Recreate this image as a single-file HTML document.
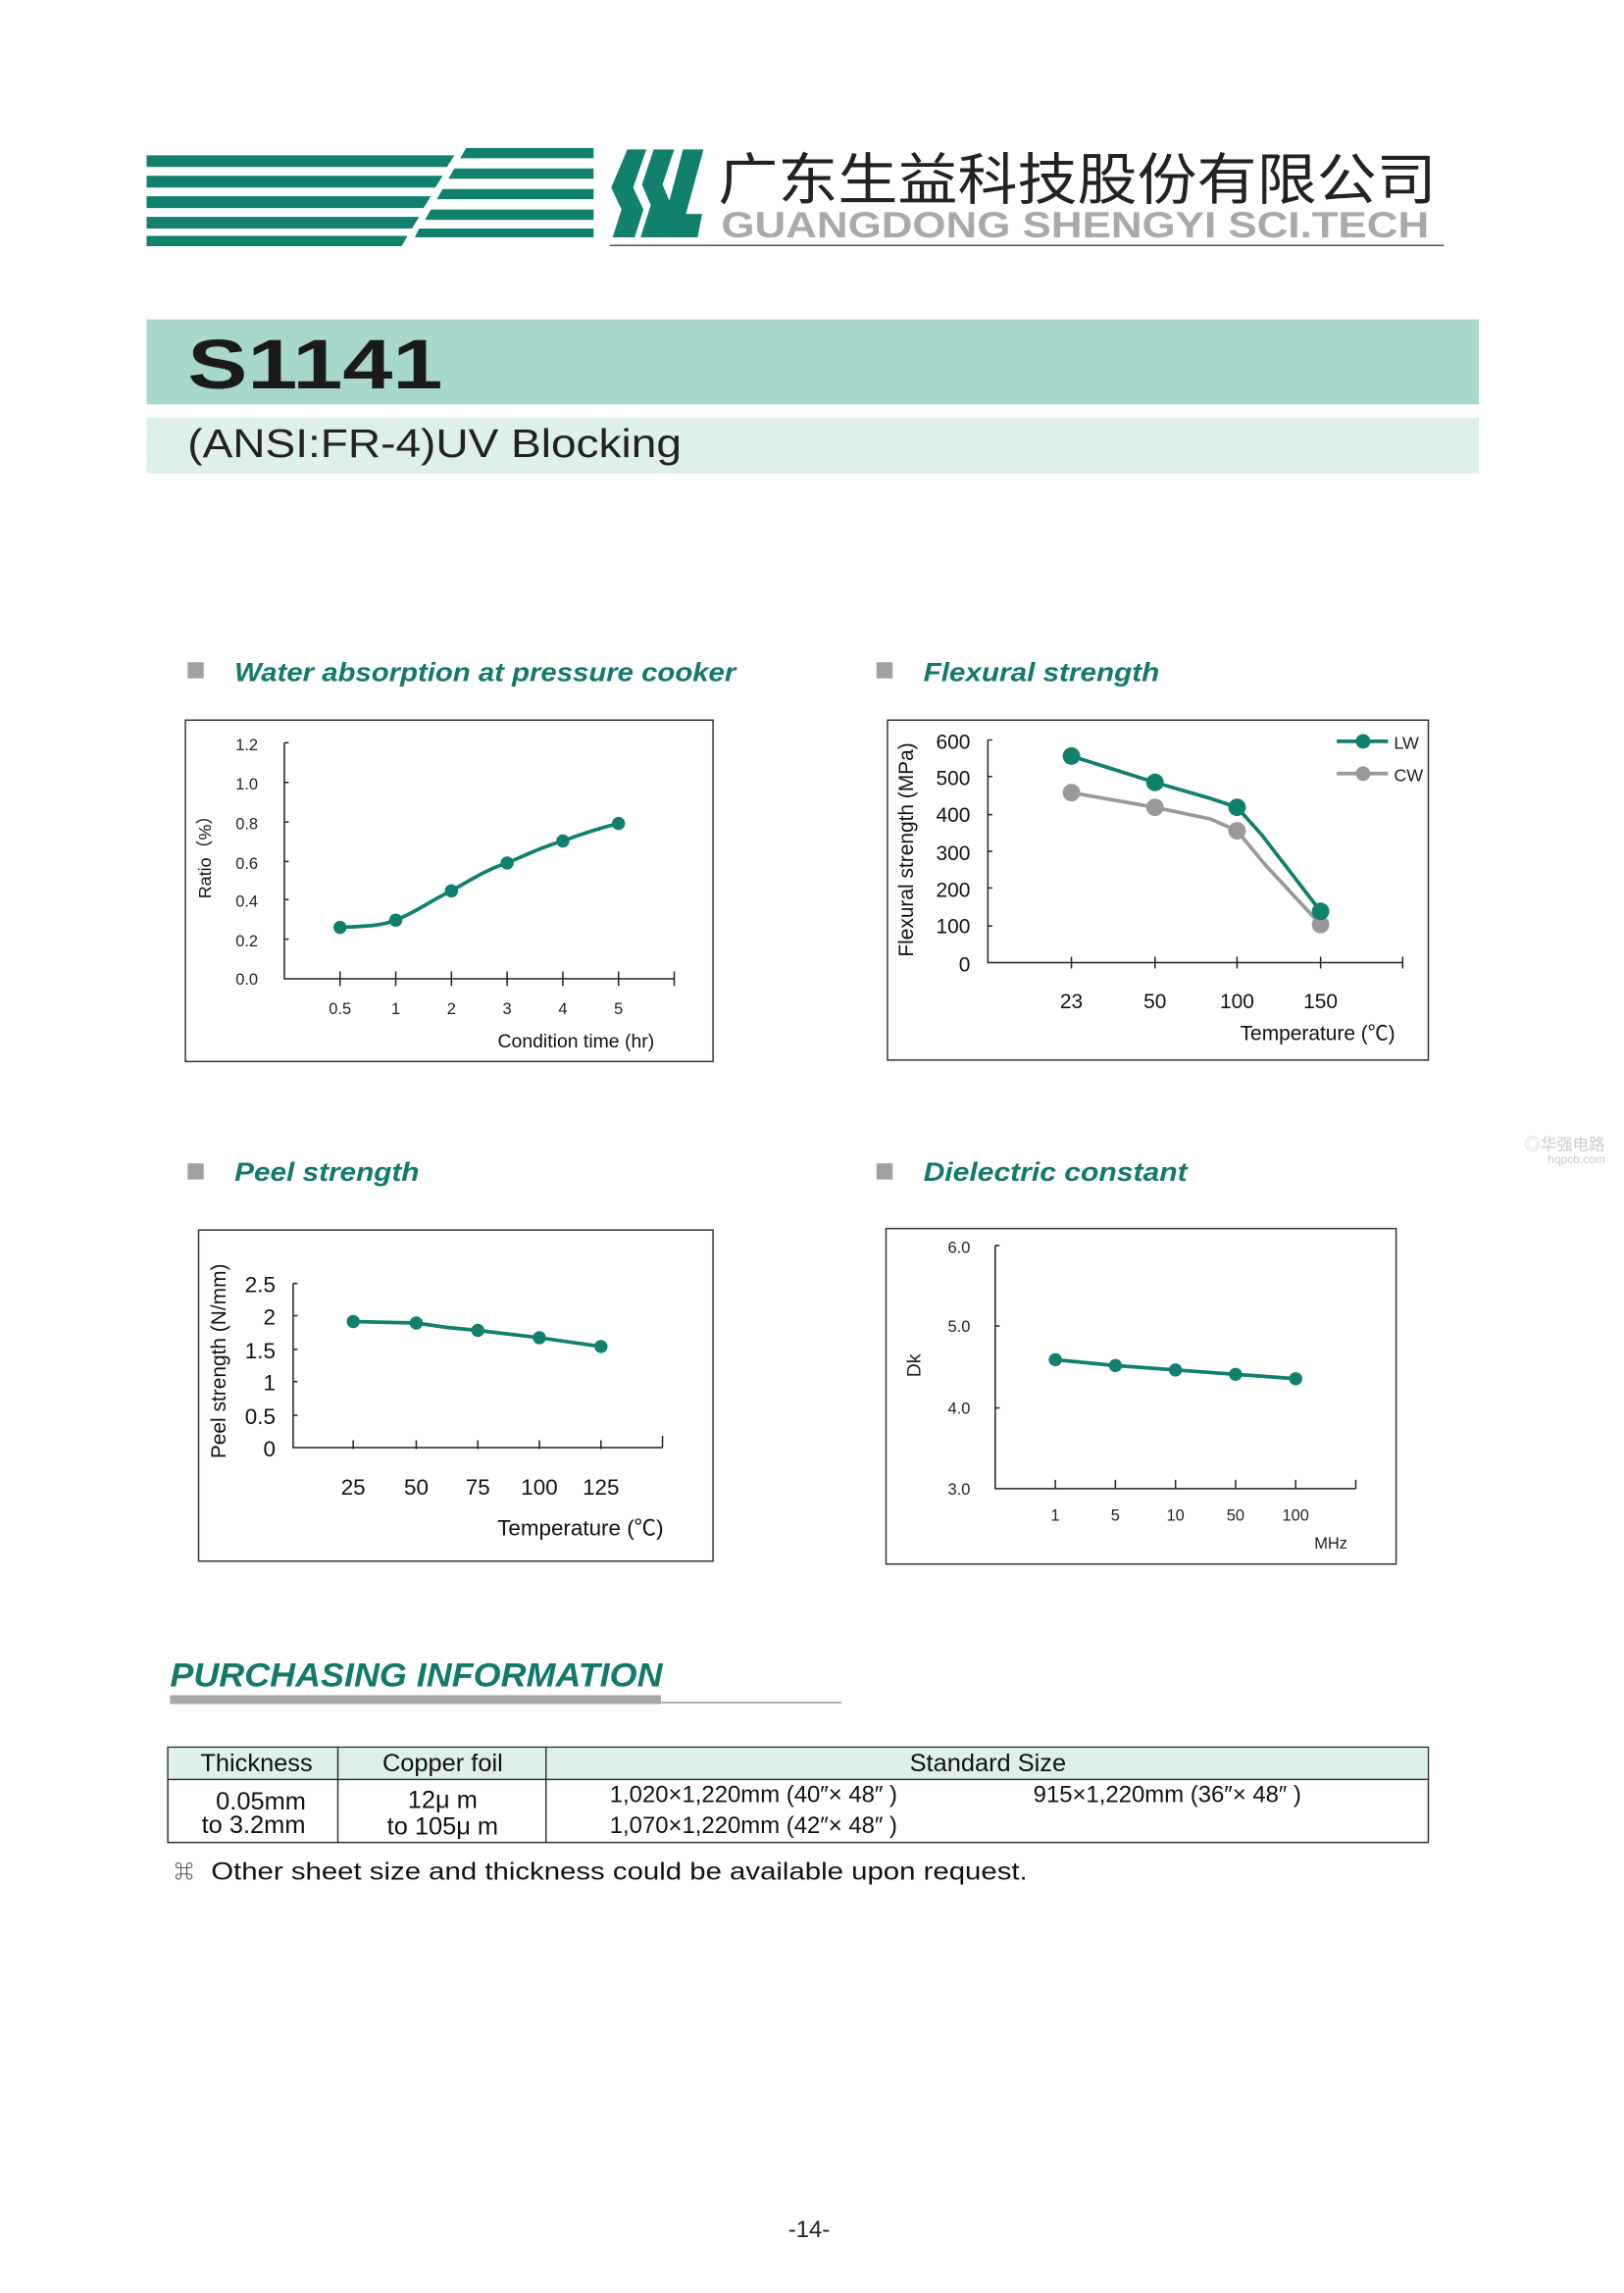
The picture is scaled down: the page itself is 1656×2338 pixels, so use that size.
<!DOCTYPE html>
<html><head><meta charset="utf-8"><style>
html,body{margin:0;padding:0;background:#fff;}
svg{display:block;}
text{font-family:"Liberation Sans","Noto Sans CJK SC",sans-serif;}
</style></head><body>
<svg width="1656" height="2338" viewBox="0 0 1108 1565" preserveAspectRatio="none" xmlns="http://www.w3.org/2000/svg">
<rect width="1108" height="1565" fill="#fff"/>
<g fill="#11806d">
<polygon points="100,106 310,106 305,114 100,114"/>
<polygon points="100,120 302,120 297,128 100,128"/>
<polygon points="100,134 294,134 289,142 100,142"/>
<polygon points="100,148 286,148 281,156 100,156"/>
<polygon points="100,161 278,161 274,168 100,168"/>
<polygon points="318,101 405,101 405,108 314,108"/>
<polygon points="310,115 405,115 405,122 306,122"/>
<polygon points="302,129 405,129 405,136 298,136"/>
<polygon points="294,143 405,143 405,150 290,150"/>
<polygon points="286,156 405,156 405,162 283,162"/>
<polygon points="428,102 441,102 432,128 439,143 433,162 418,162 424,143 417,128"/>
<polygon points="446,102 460,102 452,126 458,140 451,162 437,162 444,140 438,126"/>
<polygon points="466,102 480,102 468,146 479,146 476,162 450,162"/>
</g>
<text x="490" y="136" font-size="38" fill="#222" font-family="'Noto Serif CJK SC',serif" textLength="490" lengthAdjust="spacingAndGlyphs">广东生益科技股份有限公司</text>
<text x="492" y="162" font-size="25" font-weight="bold" fill="#a9a9a9" textLength="483" lengthAdjust="spacingAndGlyphs">GUANGDONG SHENGYI SCI.TECH</text>
<line x1="416" y1="167.5" x2="985" y2="167.5" stroke="#555" stroke-width="1"/>
<rect x="100" y="218" width="909" height="58" fill="#a8d7cc"/>
<text x="128" y="265" font-size="48" font-weight="bold" fill="#1a1a1a" textLength="174" lengthAdjust="spacingAndGlyphs">S1141</text>
<rect x="100" y="285" width="909" height="38" fill="#ddf0eb"/>
<text x="128" y="312" font-size="27" fill="#222" textLength="337" lengthAdjust="spacingAndGlyphs">(ANSI:FR-4)UV Blocking</text>
<g font-style="italic" font-weight="bold" fill="#137a6a" font-size="18">
<rect x="128" y="452" width="11" height="11" fill="#a0a0a0"/>
<text x="160" y="465" textLength="342" lengthAdjust="spacingAndGlyphs">Water absorption at pressure cooker</text>
<rect x="598" y="452" width="11" height="11" fill="#a0a0a0"/>
<text x="630" y="465" textLength="161" lengthAdjust="spacingAndGlyphs">Flexural strength</text>
<rect x="128" y="794" width="11" height="11" fill="#a0a0a0"/>
<text x="160" y="806" textLength="126" lengthAdjust="spacingAndGlyphs">Peel strength</text>
<rect x="598" y="794" width="11" height="11" fill="#a0a0a0"/>
<text x="630" y="806" textLength="180" lengthAdjust="spacingAndGlyphs">Dielectric constant</text>
</g>
<rect x="126.5" y="491.5" width="360" height="233" fill="none" stroke="#333" stroke-width="1"/>
<g stroke="#222" stroke-width="1" fill="none">
<path d="M194,507V668H460"/>
<path d="M194,507h3M194,534h3M194,561h3M194,588h3M194,614h3M194,641h3"/>
<path d="M232,663v10M270,663v10M308,663v10M346,663v10M384,663v10M422,663v10M460,663v10"/>
</g>
<g font-size="11" fill="#222" text-anchor="end" font-family="'Liberation Mono',monospace">
<text x="176" y="512">1.2</text><text x="176" y="539">1.0</text><text x="176" y="566">0.8</text><text x="176" y="593">0.6</text><text x="176" y="619">0.4</text><text x="176" y="646">0.2</text><text x="176" y="672">0.0</text>
</g>
<g font-size="11" fill="#222" text-anchor="middle">
<text x="232" y="692">0.5</text><text x="270" y="692">1</text><text x="308" y="692">2</text><text x="346" y="692">3</text><text x="384" y="692">4</text><text x="422" y="692">5</text>
</g>
<text x="393" y="715" font-size="13" fill="#111" text-anchor="middle">Condition time (hr)</text>
<text transform="translate(144,582) rotate(-90)" font-size="12" fill="#111" text-anchor="middle">Ratio（%）</text>
<path d="M232,633 C250,632 260,632 270,628 C285,622 295,614 308,608 C322,600 333,593 346,589 C360,583 370,578 384,574 C400,568 410,565 422,562" fill="none" stroke="#11806d" stroke-width="2.5"/>
<g fill="#11806d"><circle cx="232" cy="633" r="4.5"/><circle cx="270" cy="628" r="4.5"/><circle cx="308" cy="608" r="4.5"/><circle cx="346" cy="589" r="4.5"/><circle cx="384" cy="574" r="4.5"/><circle cx="422" cy="562" r="4.5"/></g>
<rect x="605.5" y="491.5" width="369" height="232" fill="none" stroke="#333" stroke-width="1"/>
<g stroke="#222" stroke-width="1" fill="none">
<path d="M674,505V657H957"/>
<path d="M674,505h3M674,530h3M674,556h3M674,581h3M674,606h3M674,632h3"/>
<path d="M731,653v8M788,653v8M844,653v8M901,653v8M957,653v8"/>
</g>
<g font-size="14" fill="#111" text-anchor="end">
<text x="662" y="511">600</text><text x="662" y="536">500</text><text x="662" y="561">400</text><text x="662" y="587">300</text><text x="662" y="612">200</text><text x="662" y="637">100</text><text x="662" y="663">0</text>
</g>
<g font-size="14" fill="#111" text-anchor="middle">
<text x="731" y="688">23</text><text x="788" y="688">50</text><text x="844" y="688">100</text><text x="901" y="688">150</text>
</g>
<text x="899" y="710" font-size="14" fill="#111" text-anchor="middle">Temperature (℃)</text>
<text transform="translate(623,580) rotate(-90)" font-size="14" fill="#111" text-anchor="middle">Flexural strength (MPa)</text>
<path d="M731,516 L788,534 L826,545 L844,551 L861,570 L901,622" fill="none" stroke="#11806d" stroke-width="2.5"/>
<path d="M731,541 L788,551 L826,559 L844,567 L863,590 L901,631" fill="none" stroke="#999" stroke-width="2.5"/>
<g fill="#999"><circle cx="731" cy="541" r="6"/><circle cx="788" cy="551" r="6"/><circle cx="844" cy="567" r="6"/><circle cx="901" cy="631" r="6"/></g>
<g fill="#11806d"><circle cx="731" cy="516" r="6"/><circle cx="788" cy="534" r="6"/><circle cx="844" cy="551" r="6"/><circle cx="901" cy="622" r="6"/></g>
<line x1="912" y1="506" x2="947" y2="506" stroke="#11806d" stroke-width="2.5"/><circle cx="930" cy="506" r="5" fill="#11806d"/>
<line x1="912" y1="528" x2="947" y2="528" stroke="#999" stroke-width="2.5"/><circle cx="930" cy="528" r="5" fill="#999"/>
<text x="951" y="511" font-size="12" fill="#222">LW</text><text x="951" y="533" font-size="12" fill="#222">CW</text>
<rect x="135.5" y="839.5" width="351" height="226" fill="none" stroke="#333" stroke-width="1"/>
<g stroke="#222" stroke-width="1" fill="none">
<path d="M200,876V988H452"/>
<path d="M200,876h3M200,898h3M200,921h3M200,943h3M200,966h3"/>
<path d="M241,983v6M284,983v6M326,983v6M368,983v6M410,983v6M452,980v8"/>
</g>
<g font-size="15" fill="#111" text-anchor="end">
<text x="188" y="882">2.5</text><text x="188" y="904">2</text><text x="188" y="927">1.5</text><text x="188" y="949">1</text><text x="188" y="972">0.5</text><text x="188" y="994">0</text>
</g>
<g font-size="15" fill="#111" text-anchor="middle">
<text x="241" y="1020">25</text><text x="284" y="1020">50</text><text x="326" y="1020">75</text><text x="368" y="1020">100</text><text x="410" y="1020">125</text>
</g>
<text x="396" y="1048" font-size="15" fill="#111" text-anchor="middle">Temperature (℃)</text>
<text transform="translate(154,929) rotate(-90)" font-size="14" fill="#111" text-anchor="middle">Peel strength (N/mm)</text>
<path d="M241,902 L284,903 L305,906 L326,908 L368,913 L410,919" fill="none" stroke="#11806d" stroke-width="2.5"/>
<g fill="#11806d"><circle cx="241" cy="902" r="4.5"/><circle cx="284" cy="903" r="4.5"/><circle cx="326" cy="908" r="4.5"/><circle cx="368" cy="913" r="4.5"/><circle cx="410" cy="919" r="4.5"/></g>
<rect x="604.5" y="838.5" width="348" height="229" fill="none" stroke="#333" stroke-width="1"/>
<g stroke="#222" stroke-width="1" fill="none">
<path d="M679,850V1016H925"/>
<path d="M679,850h3M679,905h3M679,961h3"/>
<path d="M720,1010v6M761,1010v6M802,1010v6M843,1010v6M884,1010v6M925,1010v6"/>
</g>
<g font-size="11" fill="#222" text-anchor="end" font-family="'Liberation Mono',monospace">
<text x="662" y="855">6.0</text><text x="662" y="909">5.0</text><text x="662" y="965">4.0</text><text x="662" y="1020">3.0</text>
</g>
<g font-size="11" fill="#222" text-anchor="middle">
<text x="720" y="1038">1</text><text x="761" y="1038">5</text><text x="802" y="1038">10</text><text x="843" y="1038">50</text><text x="884" y="1038">100</text>
</g>
<text x="908" y="1057" font-size="11" fill="#222" text-anchor="middle">MHz</text>
<text transform="translate(628,932) rotate(-90)" font-size="13" fill="#222" text-anchor="middle" font-family="'Liberation Serif',serif">Dk</text>
<path d="M720,928 L761,932 L802,935 L843,938 L884,941" fill="none" stroke="#11806d" stroke-width="2.5"/>
<g fill="#11806d"><circle cx="720" cy="928" r="4.5"/><circle cx="761" cy="932" r="4.5"/><circle cx="802" cy="935" r="4.5"/><circle cx="843" cy="938" r="4.5"/><circle cx="884" cy="941" r="4.5"/></g>
<text x="1040" y="785" font-size="11" fill="#ccc">◎华强电路</text>
<text x="1056" y="794" font-size="8" fill="#ccc">hqpcb.com</text>
<text x="116" y="1151" font-size="23" font-weight="bold" font-style="italic" fill="#137a6a" textLength="336" lengthAdjust="spacingAndGlyphs">PURCHASING INFORMATION</text>
<rect x="116" y="1157" width="335" height="6" fill="#a8a8a8"/>
<line x1="451" y1="1162" x2="574" y2="1162" stroke="#999" stroke-width="1"/>
<rect x="114.5" y="1192.5" width="860" height="65" fill="#fff" stroke="#333" stroke-width="1"/>
<rect x="115" y="1193" width="859" height="21" fill="#ddf0eb"/>
<line x1="114" y1="1214.5" x2="975" y2="1214.5" stroke="#333" stroke-width="1"/>
<line x1="230.5" y1="1192" x2="230.5" y2="1258" stroke="#333" stroke-width="1"/>
<line x1="372.5" y1="1192" x2="372.5" y2="1258" stroke="#333" stroke-width="1"/>
<g font-size="17" fill="#111" text-anchor="middle">
<text x="175" y="1209">Thickness</text><text x="302" y="1209">Copper foil</text><text x="674" y="1209">Standard Size</text>
<text x="178" y="1235">0.05mm</text><text x="173" y="1251">to 3.2mm</text>
<text x="302" y="1234">12μ m</text><text x="302" y="1252">to  105μ m</text>
</g>
<g font-size="16" fill="#111">
<text x="416" y="1230">1,020×1,220mm (40″×  48″ )</text>
<text x="705" y="1230">915×1,220mm (36″×  48″ )</text>
<text x="416" y="1251">1,070×1,220mm (42″×  48″ )</text>
</g>
<text x="119" y="1282" font-size="13" fill="#222">⌘</text>
<text x="144" y="1283" font-size="17" fill="#111" textLength="557" lengthAdjust="spacingAndGlyphs">Other sheet size and thickness could be available upon request.</text>
<text x="552" y="1527" font-size="16" fill="#222" text-anchor="middle">-14-</text>
</svg>
</body></html>
